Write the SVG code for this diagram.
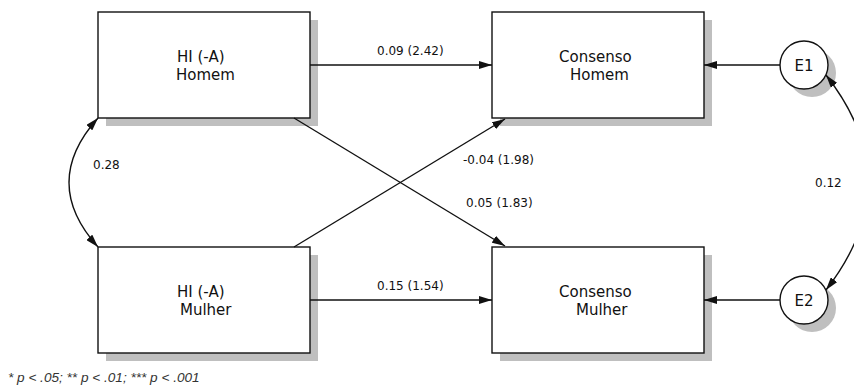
<svg xmlns="http://www.w3.org/2000/svg" width="854" height="391" viewBox="0 0 854 391">
<defs>
<style>
.box{fill:#fff;stroke:#111;stroke-width:1.4}
.shadow{fill:#bfbfbf}
.lbl{font-family:"DejaVu Sans",sans-serif;font-size:15px;fill:#111}
.elbl{font-family:"DejaVu Sans",sans-serif;font-size:12px;fill:#111}
.edge{fill:none;stroke:#111;stroke-width:1.4}
.note{font-family:"Liberation Sans",Arial,sans-serif;font-size:13.6px;font-style:italic;fill:#333}
</style>
<marker id="ah" viewBox="0 0 13 8" refX="13" refY="4" markerWidth="13" markerHeight="8" markerUnits="userSpaceOnUse" orient="auto-start-reverse">
<path d="M0,0 L13,4 L0,8 z" fill="#111"/>
</marker>
</defs>
<rect width="854" height="391" fill="#fff"/>

<g id="hi-homem">
<rect class="shadow" x="106" y="20" width="212" height="106"/>
<rect class="box" x="98" y="12" width="212" height="106"/>
<text class="lbl" x="177" y="62">HI (-A)</text>
<text class="lbl" x="176" y="80">Homem</text>
</g>
<g id="consenso-homem">
<rect class="shadow" x="500" y="20" width="212" height="106"/>
<rect class="box" x="492" y="12" width="212" height="106"/>
<text class="lbl" x="559" y="62">Consenso</text>
<text class="lbl" x="570" y="80">Homem</text>
</g>
<g id="hi-mulher">
<rect class="shadow" x="106" y="255" width="212" height="106"/>
<rect class="box" x="98" y="247" width="212" height="106"/>
<text class="lbl" x="177" y="297">HI (-A)</text>
<text class="lbl" x="180" y="315">Mulher</text>
</g>
<g id="consenso-mulher">
<rect class="shadow" x="500" y="255" width="212" height="106"/>
<rect class="box" x="492" y="247" width="212" height="106"/>
<text class="lbl" x="559" y="297">Consenso</text>
<text class="lbl" x="576" y="315">Mulher</text>
</g>
<g id="e1">
<circle class="shadow" cx="812" cy="73" r="24"/>
<circle class="box" cx="804" cy="65" r="24"/>
<text class="lbl" x="804" y="71" text-anchor="middle">E1</text>
</g>
<g id="e2">
<circle class="shadow" cx="812" cy="308" r="24"/>
<circle class="box" cx="804" cy="300" r="24"/>
<text class="lbl" x="804" y="306" text-anchor="middle">E2</text>
</g>

<g id="connectors">
<line class="edge" x1="310" y1="65" x2="492" y2="65" marker-end="url(#ah)"/>
<line class="edge" x1="310" y1="300" x2="492" y2="300" marker-end="url(#ah)"/>
<line class="edge" x1="780" y1="65" x2="704" y2="65" marker-end="url(#ah)"/>
<line class="edge" x1="780" y1="300" x2="704" y2="300" marker-end="url(#ah)"/>
<line class="edge" x1="294" y1="118" x2="505" y2="246" marker-end="url(#ah)"/>
<line class="edge" x1="294" y1="247" x2="505" y2="119" marker-end="url(#ah)"/>
<path class="edge" d="M98,118 Q40,182.5 98,247" marker-start="url(#ah)" marker-end="url(#ah)"/>
<path class="edge" d="M826,75 Q910,182 826,290" marker-start="url(#ah)" marker-end="url(#ah)"/>
<text class="elbl" x="377" y="55">0.09 (2.42)</text>
<text class="elbl" x="377" y="290">0.15 (1.54)</text>
<text class="elbl" x="463" y="164">-0.04 (1.98)</text>
<text class="elbl" x="466" y="207">0.05 (1.83)</text>
<text class="elbl" x="93" y="169">0.28</text>
<text class="elbl" x="815" y="187">0.12</text>
</g>
<text class="note" x="8" y="382">* p &lt; .05; ** p &lt; .01; *** p &lt; .001</text>
</svg>
